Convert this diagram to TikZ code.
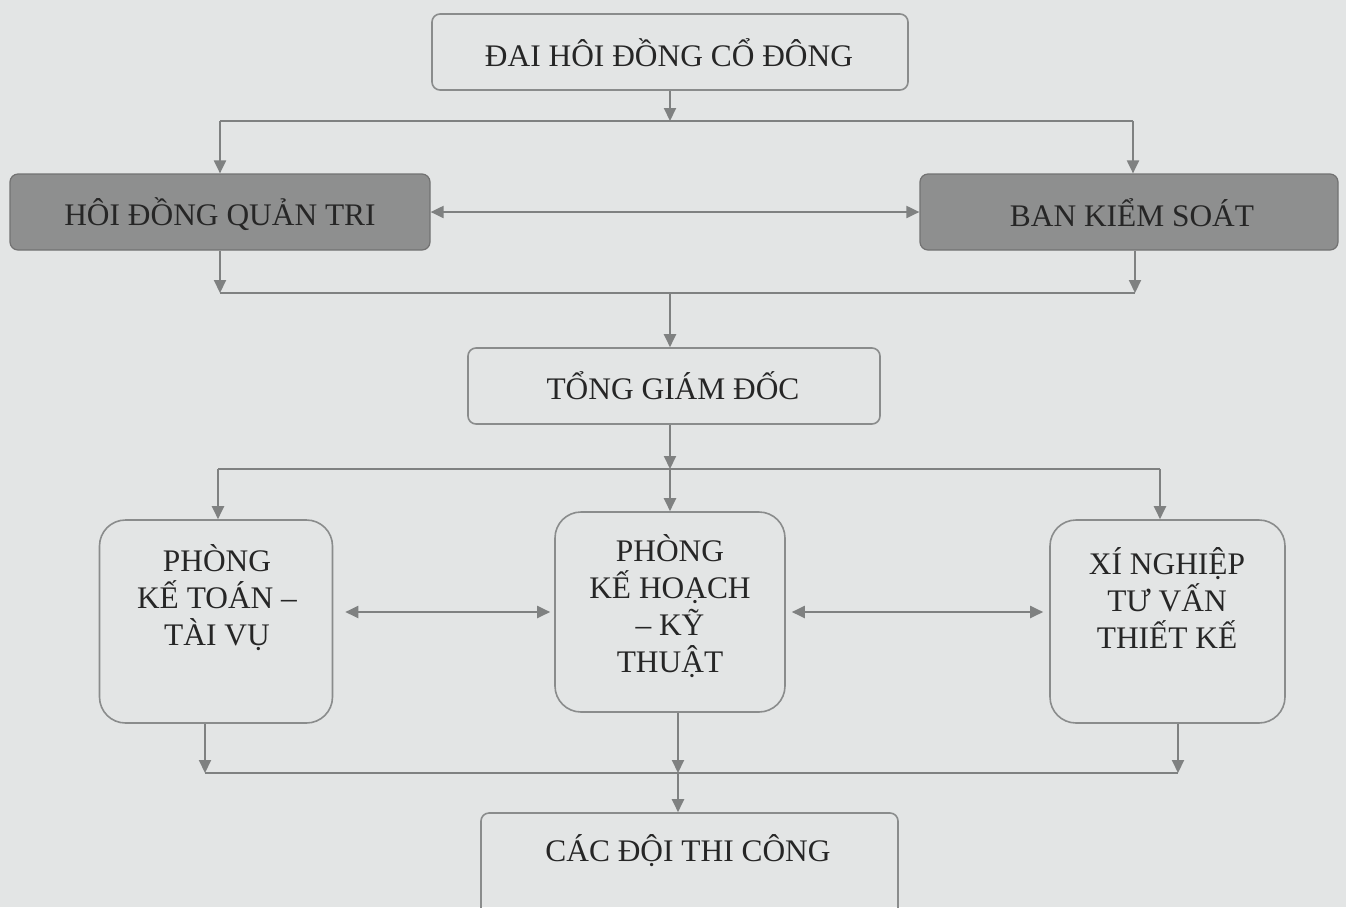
\documentclass[tikz,border=0pt]{standalone}
\usepackage{fontspec}
\setmainfont{Liberation Serif}
\usetikzlibrary{arrows.meta}
\definecolor{bgc}{HTML}{E3E5E5}
\definecolor{lnc}{HTML}{7F8181}
\definecolor{bdc}{HTML}{8A8C8C}
\definecolor{dkc}{HTML}{8E8F8F}
\definecolor{txc}{HTML}{262626}
\tikzset{
  ln/.style={draw=lnc, line width=1pt},
  arr/.style={ln, -{Triangle[length=6.5pt,width=6pt]}},
  darr/.style={ln, {Triangle[length=6.5pt,width=6pt]}-{Triangle[length=6.5pt,width=6pt]}},
  wbox/.style={draw=bdc, line width=0.8pt, rounded corners=4pt, inner sep=0pt},
  gbox/.style={draw=dkc!80!black, fill=dkc, line width=0.6pt, rounded corners=4pt, inner sep=0pt},
  rbox/.style={draw=bdc, line width=0.8pt, rounded corners=13pt, inner sep=0pt},
  txt/.style={text=txc, font=\fontsize{15.7}{18.5}\selectfont, align=center, inner sep=0pt},
}
\begin{document}
\begin{tikzpicture}[x=0.5pt,y=-0.5pt]
\useasboundingbox (0,0) rectangle (1346,907);
\fill[bgc] (0,0) rectangle (1346,907);
% boxes
\node[wbox, minimum width=238pt, minimum height=38pt] (dh) at (670,52) {};
\node[txt] (dht) at (669,53) {ĐAI HÔI ĐỒNG CỔ ĐÔNG};
\node[gbox, minimum width=210pt, minimum height=38pt] (hd) at (220,212) {};
\node[txt] (hdt) at (220,214) {HÔI ĐỒNG QUẢN TRI};
\node[gbox, minimum width=209pt, minimum height=38pt] (bk) at (1129,212) {};
\node[txt] (bkt) at (1132,213) {BAN KIỂM SOÁT};
\node[wbox, minimum width=206pt, minimum height=38pt] (tg) at (674,386) {};
\node[txt] (tgt) at (673,386) {TỔNG GIÁM ĐỐC};
\node[rbox, minimum width=116.5pt, minimum height=101.5pt] (pk) at (216,621.5) {};
\node[txt] (pkt) at (217,598) {PHÒNG\\KẾ TOÁN –\\TÀI VỤ};
\node[rbox, minimum width=115pt, minimum height=100pt] (pm) at (670,612) {};
\node[txt] (pmt) at (670,606) {PHÒNG\\KẾ HOẠCH\\– KỸ\\THUẬT};
\node[rbox, minimum width=117.5pt, minimum height=101.5pt] (px) at (1167.5,621.5) {};
\node[txt] (pxt) at (1167,598) {XÍ NGHIỆP\\TƯ VẤN\\THIẾT KẾ};
\begin{scope}
\clip (0,0) rectangle (1346,907);
\node[wbox, minimum width=208.5pt, minimum height=60pt] (cd) at (689.5,873) {};
\end{scope}
\node[txt] (cdt) at (688,851) {CÁC ĐỘI THI CÔNG};
% junctions
\coordinate (j1) at (670,121);
\coordinate (j1l) at (220,121);
\coordinate (j1r) at (1133,121);
\coordinate (j2) at (670,293);
\coordinate (j2l) at (220,293);
\coordinate (j2r) at (1135,293);
\coordinate (j3) at (670,469);
\coordinate (j3l) at (218,469);
\coordinate (j3r) at (1160,469);
\coordinate (j4) at (678,773);
\coordinate (j4l) at (205,773);
\coordinate (j4r) at (1178,773);
% connectors
\draw[arr] (dh.south) -- (j1);
\draw[ln] (j1l) -- (j1r);
\draw[arr] (j1l) -- (hd.north);
\draw[arr] (j1r) -- (j1r |- bk.north);
\draw[darr] (hd.east) -- (bk.west);
\draw[arr] (hd.south) -- (j2l);
\draw[arr] (j2r |- bk.south) -- (j2r);
\draw[ln] (j2l) -- (j2r);
\draw[arr] (j2) -- (j2 |- tg.north);
\draw[arr] (j2 |- tg.south) -- (j3);
\draw[ln] (j3l) -- (j3r);
\draw[arr] (j3l) -- (j3l |- pk.north);
\draw[arr] (j3) -- (pm.north);
\draw[arr] (j3r) -- (j3r |- px.north);
\draw[darr] ([xshift=6pt]pk.east |- pm.west) -- ([xshift=-2pt]pm.west);
\draw[darr] ([xshift=3pt]pm.east) -- ([xshift=-3pt]px.west |- pm.east);
\draw[arr] (j4l |- pk.south) -- (j4l);
\draw[arr] (j4 |- pm.south) -- (j4);
\draw[arr] (j4r |- px.south) -- (j4r);
\draw[ln] (j4l) -- (j4r);
\draw[arr] (j4) -- (j4 |- cd.north);
\end{tikzpicture}
\end{document}
